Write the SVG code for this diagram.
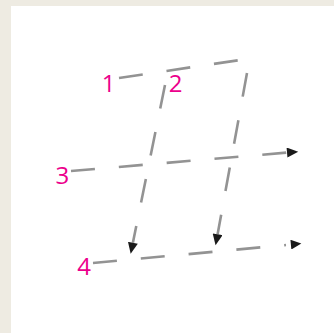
<svg xmlns="http://www.w3.org/2000/svg" width="334" height="333" viewBox="0 0 334 333">
  <style>
    .ln { fill: none; stroke: #939393; stroke-width: 2.6; stroke-dasharray: 24 24; }
    .lbl { font-family: "Open Sans", "Liberation Sans", sans-serif; font-size: 24px; fill: #ec008c; text-anchor: middle; }
  </style>
  <defs>
    <marker id="ah" markerUnits="userSpaceOnUse" markerWidth="12" markerHeight="10" viewBox="0 0 9 8" refX="0" refY="4" orient="auto">
      <path d="M0,0 L9,4 L0,8 Z" fill="#1a1a1a"/>
    </marker>
    <marker id="ah2" markerUnits="userSpaceOnUse" markerWidth="16" markerHeight="10" viewBox="-4 0 13 8" refX="-4" refY="4" orient="auto">
      <path d="M0,0 L8.5,4 L0,8 Z" fill="#1a1a1a"/>
    </marker>
  </defs>
  <rect x="0" y="0" width="334" height="333" fill="#eeebe2"/>
  <rect x="11" y="6" width="323" height="327" fill="#ffffff"/>
  <g id="connectors">
    <line class="ln" x1="119" y1="78" x2="240" y2="60"/>
    <line class="ln" x1="247" y1="73" x2="217.6" y2="234.3" marker-end="url(#ah)"/>
    <line class="ln" x1="165" y1="85" x2="132.9" y2="242.8" marker-end="url(#ah)"/>
    <line class="ln" x1="71" y1="171" x2="287" y2="152.6" marker-end="url(#ah)"/>
    <line class="ln" x1="93" y1="263" x2="286" y2="245" marker-end="url(#ah2)"/>
  </g>
  <g id="label-1"><text class="lbl" x="108.5" y="92">1</text></g>
  <g id="label-2"><text class="lbl" x="175.5" y="92">2</text></g>
  <g id="label-3"><text class="lbl" x="62.3" y="184">3</text></g>
  <g id="label-4"><text class="lbl" x="84" y="275">4</text></g>
</svg>
